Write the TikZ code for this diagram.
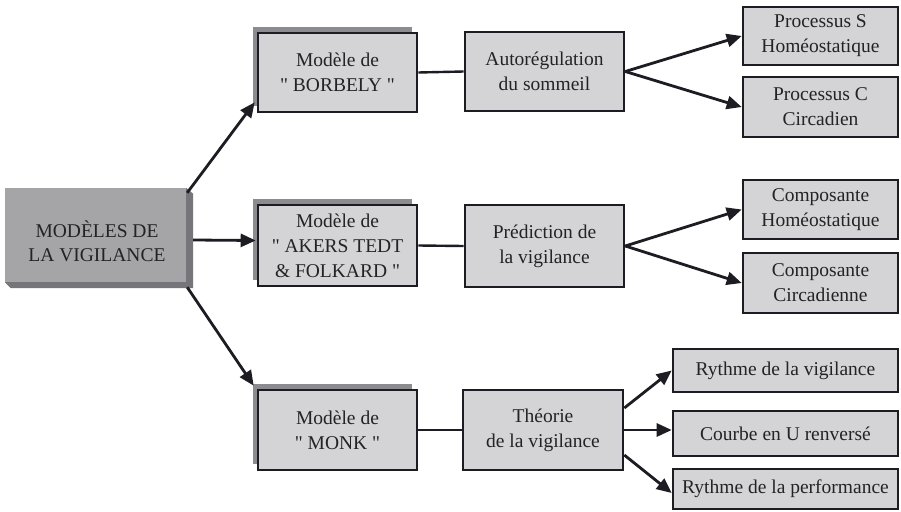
\documentclass[tikz,border=0pt]{standalone}
\usepackage{fontspec}
\setmainfont{Liberation Serif}
\usetikzlibrary{calc,arrows.meta,shadows}
\definecolor{boxfill}{RGB}{212,212,214}
\definecolor{mainfill}{RGB}{165,165,168}
\definecolor{mainside}{RGB}{118,118,122}
\definecolor{shadowc}{RGB}{140,140,144}
\definecolor{boxline}{RGB}{28,28,34}
\definecolor{txt}{RGB}{35,35,35}
\newcommand{\dq}{\textquotedbl}
\tikzset{
  box/.style={draw=boxline, line width=2.6pt, fill=boxfill, text=txt, align=center,
    inner sep=0pt, font=\fontsize{19.5}{25}\selectfont},
  shadowbox/.style={box, drop shadow={shadow xshift=-5pt, shadow yshift=6pt, fill=shadowc, opacity=1}},
  mainbox/.style={fill=mainfill, text=txt, align=center, inner sep=0pt},
  arr/.style={draw=boxline, line width=2.8pt, -{Triangle[length=15pt,width=13pt]}},
  link/.style={draw=boxline, line width=2.4pt},
}
\begin{document}
\begin{tikzpicture}[x=1pt,y=-1pt]
\useasboundingbox (0,0) rectangle (901,511);
\fill[white] (0,0) rectangle (901,511);
% main box
\node[mainbox, minimum width=181pt, minimum height=94pt] (main) at (95.5,235) {};
\fill[mainside] (main.north east) -- ++(7,6) -- ($(main.south east)+(7,6)$) -- ($(main.south west)+(6,6)$) -- (main.south west) -- (main.south east) -- cycle;
\node[text=txt, align=center, font=\fontsize{19.5}{24}\selectfont] (maintext) at (97,241) {MODÈLES DE\\LA VIGILANCE};
% level 2
\node[shadowbox, minimum width=159pt, minimum height=79pt] (borb) at (337.5,72.5) {Modèle de\\\dq{} BORBELY \dq};
\node[shadowbox, minimum width=159pt, minimum height=81pt] (akers) at (337.5,245.5) {Modèle de\\\dq{} AKERS TEDT\\\& FOLKARD \dq};
\node[shadowbox, minimum width=159pt, minimum height=80pt] (monk) at (337.5,430) {Modèle de\\\dq{} MONK \dq};
% level 3
\node[box, minimum width=159pt, minimum height=79pt] (auto) at (544.5,71.5) {Autorégulation\\du sommeil};
\node[box, minimum width=159pt, minimum height=82pt] (pred) at (544.5,246) {Prédiction de\\la vigilance};
\node[box, minimum width=160pt, minimum height=80pt] (theo) at (543,430) {Théorie\\de la vigilance};
% level 4
\node[box, minimum width=155pt, minimum height=58pt] (procS) at (820.5,36) {Processus S\\Homéostatique};
\node[box, minimum width=155pt, minimum height=60pt] (procC) at (820.5,107) {Processus C\\Circadien};
\node[box, minimum width=155pt, minimum height=59pt] (compH) at (820.5,209.5) {Composante\\Homéostatique};
\node[box, minimum width=155pt, minimum height=60pt] (compC) at (820.5,283) {Composante\\Circadienne};
\node[box, minimum width=225pt, minimum height=43pt] (rythV) at (785.5,370.5) {Rythme de la vigilance};
\node[box, minimum width=225pt, minimum height=45pt] (courbe) at (785.5,433.5) {Courbe en U renversé};
\node[box, minimum width=225pt, minimum height=40pt] (rythP) at (785.5,489) {Rythme de la performance};
% connectors from main
\draw[arr] ($(main.north east)+(1,5)$) -- ($(borb.south west)+(-2,-11)$);
\draw[arr] ($(main.east)+(7,5)$) -- ($(akers.west)+(-1,-5)$);
\draw[arr] ($(main.south east)+(1,5)$) -- ($(monk.north west)+(-3,-3)$);
% level 2 to level 3
\draw[link] (borb.east) -- (auto.west);
\draw[link] (akers.east) -- (pred.west);
\draw[link] (monk.east) -- (theo.west);
% level 3 to level 4
\draw[arr] (auto.east) -- (procS.west);
\draw[arr] (auto.east) -- (procC.west);
\draw[arr] (pred.east) -- (compH.west);
\draw[arr] (pred.east) -- (compC.west);
\draw[arr] ($(theo.east)+(0,-22)$) -- (rythV.west);
\draw[arr] (theo.east) -- (courbe.west |- theo.east);
\draw[arr] ($(theo.east)+(0,25)$) -- ($(rythP.west)+(0,4)$);
\end{tikzpicture}
\end{document}
